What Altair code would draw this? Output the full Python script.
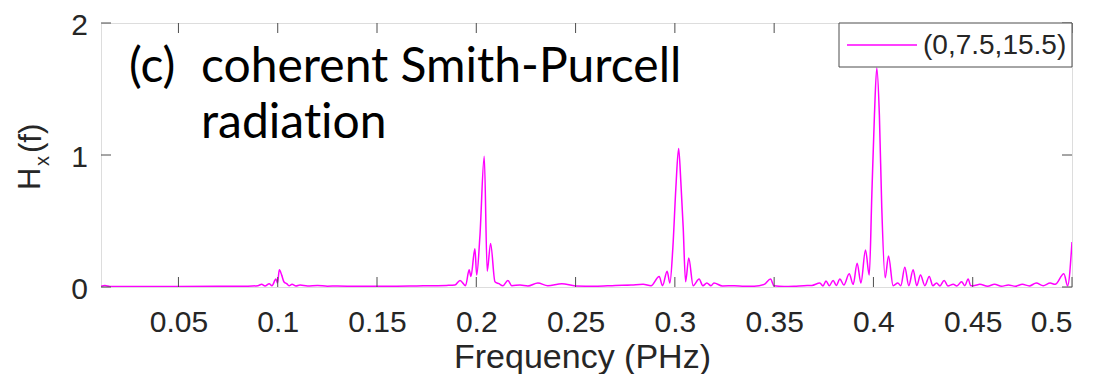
import altair as alt
import pandas as pd

# ---- data ----
freq = [0.011, 0.013, 0.0155, 0.03, 0.05, 0.07, 0.085, 0.09,
        0.0919, 0.0936, 0.0957, 0.0971, 0.0991, 0.0999, 0.1008, 0.102, 0.1031, 0.1045, 0.1057, 0.1072, 0.1092, 0.1112,
        0.115, 0.12, 0.125, 0.13, 0.14, 0.15, 0.16, 0.17, 0.18, 0.185,
        0.1892, 0.1918, 0.1946, 0.1964, 0.1973, 0.1993, 0.2002, 0.2018, 0.204, 0.2055, 0.2072, 0.2094, 0.2114, 0.2134, 0.2159, 0.2179,
        0.222, 0.226, 0.231, 0.236, 0.2431, 0.25, 0.26, 0.27, 0.278, 0.284, 0.288,
        0.2921, 0.2938, 0.2961, 0.2975, 0.299, 0.3005, 0.3019, 0.303, 0.3042, 0.3054, 0.307, 0.3092, 0.3122, 0.3141, 0.3161, 0.3182, 0.3197,
        0.324, 0.33, 0.335, 0.34, 0.345, 0.3482, 0.3499, 0.355, 0.36, 0.365, 0.369,
        0.373, 0.3746, 0.3761, 0.3778, 0.3797, 0.3813, 0.3831, 0.3851, 0.3878, 0.3898, 0.3918, 0.3937, 0.396, 0.3979,
        0.3992, 0.4005, 0.4017, 0.403, 0.4042, 0.4059, 0.4076, 0.4099, 0.4123, 0.4138, 0.4158, 0.4178, 0.42, 0.4218,
        0.4237, 0.4259, 0.4281, 0.4299, 0.4318, 0.4335, 0.4356, 0.4375, 0.4402, 0.442, 0.4444, 0.446, 0.4477, 0.449,
        0.451, 0.4536, 0.4575, 0.461, 0.4645, 0.468, 0.4715, 0.475, 0.4785, 0.482, 0.4855, 0.489, 0.4915,
        0.4959, 0.4978, 0.5]
hx = [0.005, 0.012, 0.004, 0.004, 0.004, 0.005, 0.006, 0.01,
      0.02, 0.008, 0.025, 0.01, 0.06, 0.03, 0.13, 0.09, 0.04, 0.025, 0.01, 0.02, 0.008, 0.015,
      0.008, 0.012, 0.006, 0.008, 0.005, 0.005, 0.006, 0.008, 0.01, 0.012,
      0.015, 0.05, 0.01, 0.13, 0.08, 0.29, 0.09, 0.38, 0.99, 0.12, 0.33, 0.04, 0.025, 0.01, 0.05, 0.01,
      0.015, 0.008, 0.03, 0.01, 0.025, 0.008, 0.006, 0.012, 0.015, 0.02, 0.01,
      0.08, 0.01, 0.12, 0.03, 0.3, 0.75, 1.05, 0.8, 0.45, 0.04, 0.22, 0.01, 0.06, 0.01, 0.03, 0.01, 0.03,
      0.008, 0.01, 0.006, 0.006, 0.02, 0.06, 0.01, 0.004, 0.006, 0.01, 0.012,
      0.03, 0.008, 0.045, 0.01, 0.05, 0.012, 0.06, 0.015, 0.1, 0.02, 0.18, 0.03, 0.28, 0.09,
      0.7, 1.3, 1.66, 1.3, 0.6, 0.07, 0.235, 0.01, 0.03, 0.01, 0.15, 0.01, 0.13, 0.01,
      0.09, 0.01, 0.08, 0.01, 0.03, 0.008, 0.05, 0.008, 0.02, 0.008, 0.04, 0.01, 0.06, 0.01,
      0.012, 0.02, 0.006, 0.02, 0.006, 0.015, 0.006, 0.02, 0.008, 0.03, 0.01, 0.03, 0.02,
      0.1, 0.01, 0.34]

x_ticks = [0.05, 0.1, 0.15, 0.2, 0.25, 0.3, 0.35, 0.4, 0.45, 0.5]
y_ticks = [0, 1, 2]
x_domain = [0.011, 0.5]
y_domain = [0, 2]
series_name = ["(0,7.5,15.5)"]
panel_label = ["(c)"]
note_lines = ["coherent Smith-Purcell", "radiation"]
x_title = "Frequency (PHz)"
y_title_parts = ["H", "x", "(f)"]

W, H = 971, 264
MAG = "#ff00ff"
BOX = "#4d4d4d"
TXT = "#262626"
FONT = "Liberation Sans"

df = pd.DataFrame({"f": freq, "hx": hx})
xs = alt.Scale(domain=x_domain, nice=False, zero=False)
ys = alt.Scale(domain=y_domain, nice=False)

AX = alt.Axis(
    values=x_ticks, format="~g", grid=False, ticks=False, tickSize=0, domain=False,
    labelFontSize=30, labelFont=FONT, labelColor=TXT, labelPadding=20, labelFlush=True,
    labelOverlap=False,
    title=x_title, titleFont=FONT, titleFontSize=34, titleFontWeight="normal", titleColor=TXT,
    titleX=481, titleY=80, titleBaseline="alphabetic", titleAlign="center")

line = alt.Chart(df).mark_line(color=MAG, strokeWidth=1.5, clip=True, interpolate="monotone").encode(
    x=alt.X("f:Q", scale=xs, axis=AX),
    y=alt.Y("hx:Q", scale=ys, axis=None),
)

xt = pd.DataFrame({"f": x_ticks})
yt = pd.DataFrame({"hx": y_ticks})
tick_x_bot = alt.Chart(xt).mark_rule(color=BOX, strokeWidth=1).encode(
    x=alt.X("f:Q", scale=xs, axis=AX), y=alt.value(H), y2=alt.value(H - 10))
tick_x_top = alt.Chart(xt).mark_rule(color=BOX, strokeWidth=1).encode(
    x=alt.X("f:Q", scale=xs, axis=AX), y=alt.value(0), y2=alt.value(10))
tick_y_l = alt.Chart(yt).mark_rule(color=BOX, strokeWidth=1).encode(
    y=alt.Y("hx:Q", scale=ys, axis=None), x=alt.value(0), x2=alt.value(10))
tick_y_r = alt.Chart(yt).mark_rule(color=BOX, strokeWidth=1).encode(
    y=alt.Y("hx:Q", scale=ys, axis=None), x=alt.value(W), x2=alt.value(W - 10))
# y tick labels
ylab = alt.Chart(yt).mark_text(
    font=FONT, fontSize=30, color=TXT, align="right", baseline="middle", dy=3).encode(
    y=alt.Y("hx:Q", scale=ys, axis=None), x=alt.value(-13), text=alt.Text("hx:Q", format="d"))

# legend
leg_df = pd.DataFrame({"name": series_name})
leg_box = alt.Chart(leg_df).mark_rect(fill="white", stroke=BOX, strokeWidth=1).encode(
    x=alt.value(738), x2=alt.value(W), y=alt.value(0), y2=alt.value(44))
leg_line = alt.Chart(leg_df).mark_rule(color=MAG, strokeWidth=1.5).encode(
    x=alt.value(746), x2=alt.value(816), y=alt.value(22))
leg_text = alt.Chart(leg_df).mark_text(
    font=FONT, fontSize=28, color=TXT, align="left", baseline="middle").encode(
    x=alt.value(822), y=alt.value(23), text="name:N")

# annotation (ZWNJ keeps the browser from forming a "ti" ligature)
ann_font = "Lato"
ANN = 48
no_lig = [s.replace("ti", "t\u200ci") for s in note_lines]
lab = alt.Chart(pd.DataFrame({"t": panel_label})).mark_text(
    font=ann_font, fontSize=ANN, color="black", align="left", baseline="alphabetic").encode(
    x=alt.value(28), y=alt.value(59), text="t:N")
note1 = alt.Chart(pd.DataFrame({"t": no_lig[:1]})).mark_text(
    font=ann_font, fontSize=ANN, color="black", align="left", baseline="alphabetic").encode(
    x=alt.value(100), y=alt.value(59), text="t:N")
note2 = alt.Chart(pd.DataFrame({"t": no_lig[1:]})).mark_text(
    font=ann_font, fontSize=ANN, color="black", align="left", baseline="alphabetic").encode(
    x=alt.value(100), y=alt.value(115), text="t:N")

# y title: H_x(f)
yH = alt.Chart(pd.DataFrame({"t": y_title_parts[:1]})).mark_text(
    font=FONT, fontSize=31, color=TXT, align="left", baseline="alphabetic", angle=270).encode(
    x=alt.value(-61), y=alt.value(167), text="t:N")
yx = alt.Chart(pd.DataFrame({"t": y_title_parts[1:2]})).mark_text(
    font=FONT, fontSize=20, color=TXT, align="left", baseline="alphabetic", angle=270).encode(
    x=alt.value(-52), y=alt.value(143), text="t:N")
yf = alt.Chart(pd.DataFrame({"t": y_title_parts[2:]})).mark_text(
    font=FONT, fontSize=31, color=TXT, align="left", baseline="alphabetic", angle=270).encode(
    x=alt.value(-60), y=alt.value(130), text="t:N")

chart = alt.layer(
    line, tick_x_bot, tick_x_top, tick_y_l, tick_y_r, ylab,
    leg_box, leg_line, leg_text, lab, note1, note2, yH, yx, yf
).properties(
    width=W, height=H,
    autosize=alt.AutoSizeParams(type="none"),
    padding={"left": 93, "top": 15, "right": 16, "bottom": 87},
).configure_view(stroke=BOX, strokeWidth=1).configure(background="white")

chart.save("out.html", embed_options={"renderer": "svg", "actions": False})
